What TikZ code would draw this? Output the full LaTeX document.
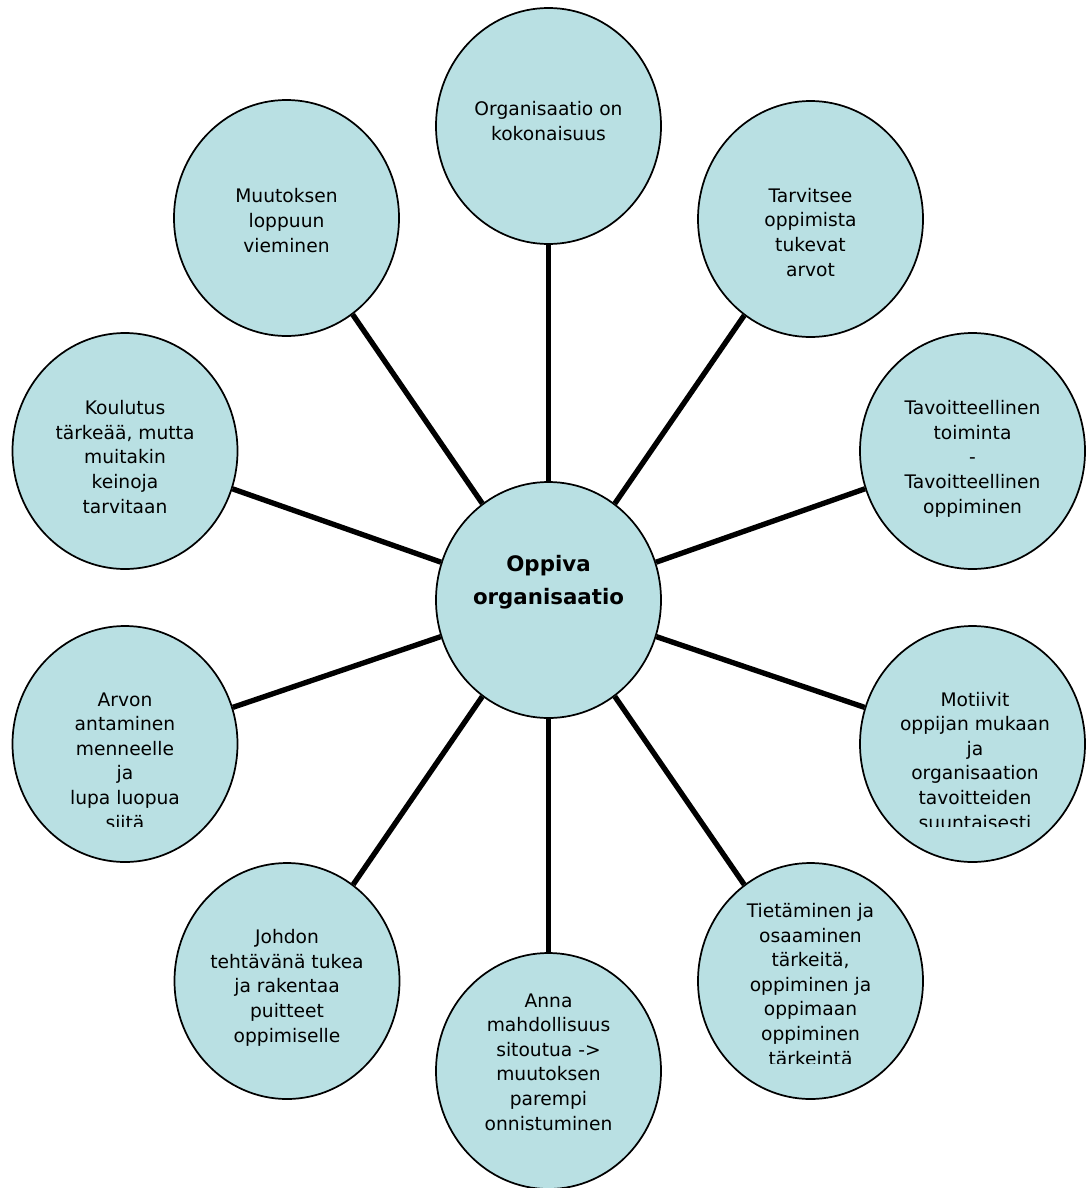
\documentclass[tikz,border=0pt]{standalone}
\usepackage{fontspec}
\setmainfont{DejaVu Sans}
\usetikzlibrary{shapes.geometric}
\definecolor{bubblefill}{RGB}{185,224,227}
\tikzset{
    bubble/.style={ellipse, draw=black, line width=1.3pt, fill=bubblefill,
        minimum width=168.75pt, minimum height=177pt, inner sep=0pt},
    spoke/.style={line width=4pt},
    txt/.style={align=center, anchor=base, inner sep=0pt,
        font=\fontsize{14}{18.4}\selectfont},
    hubtxt/.style={align=center, anchor=base, inner sep=0pt,
        font=\bfseries\fontsize{16}{24.75}\selectfont}
}

\begin{document}
\begin{tikzpicture}[x=0.75pt, y=-0.75pt]

    \useasboundingbox (0,0) rectangle (1088,1188);

    % ovals
    \node[bubble] (hub) at (548.5,600) {};
    \node[bubble] (o1) at (548.5,126) {};
    \node[bubble] (o2) at (810.5,219) {};
    \node[bubble] (o3) at (972.5,451) {};
    \node[bubble] (o4) at (972.5,744) {};
    \node[bubble] (o5) at (810.5,981) {};
    \node[bubble] (o6) at (548.5,1071) {};
    \node[bubble] (o7) at (287,981) {};
    \node[bubble] (o8) at (125,744) {};
    \node[bubble] (o9) at (125,451) {};
    \node[bubble] (o10) at (286.5,218) {};

    \foreach \n in {o1,o2,o3,o4,o5,o6,o7,o8,o9,o10}
        \draw[spoke] (hub) -- (\n);

    % texts (placed at the baseline of the last line)
    \node[hubtxt] (hubt) at (548.5,604) {Oppiva\\organisaatio};
    \node[txt] (t1) at (548.5,140) {Organisaatio on\\kokonaisuus};
    \node[txt] (t2) at (810.5,276) {Tarvitsee\\oppimista\\tukevat\\arvot};
    \node[txt] (t3) at (972.5,513) {Tavoitteellinen\\toiminta\\-\\Tavoitteellinen\\oppiminen};
    \node[txt] (t6) at (548.5,1130) {Anna\\mahdollisuus\\sitoutua ->\\muutoksen\\parempi\\onnistuminen};
    \node[txt] (t7) at (287,1042) {Johdon\\tehtävänä tukea\\ja rakentaa\\puitteet\\oppimiselle};
    \node[txt] (t9) at (125,513) {Koulutus\\tärkeää, mutta\\muitakin\\keinoja\\tarvitaan};
    \node[txt] (t10) at (286.5,252) {Muutoksen\\loppuun\\vieminen};

    \begin{scope}
        \clip (860,600) rectangle (1088,826);
        \node[txt] (t4) at (975,829) {Motiivit\\oppijan mukaan\\ja\\organisaation\\tavoitteiden\\suuntaisesti};
    \end{scope}

    \begin{scope}
        \clip (695,850) rectangle (930,1063);
        \node[txt] (t5) at (810.5,1065) {Tietäminen ja\\osaaminen\\tärkeitä,\\oppiminen ja\\oppimaan\\oppiminen\\tärkeintä};
    \end{scope}

    \begin{scope}
        \clip (10,600) rectangle (240,826);
        \node[txt] (t8) at (125,829) {Arvon\\antaminen\\menneelle\\ja\\lupa luopua\\siitä};
    \end{scope}

\end{tikzpicture}
\end{document}
